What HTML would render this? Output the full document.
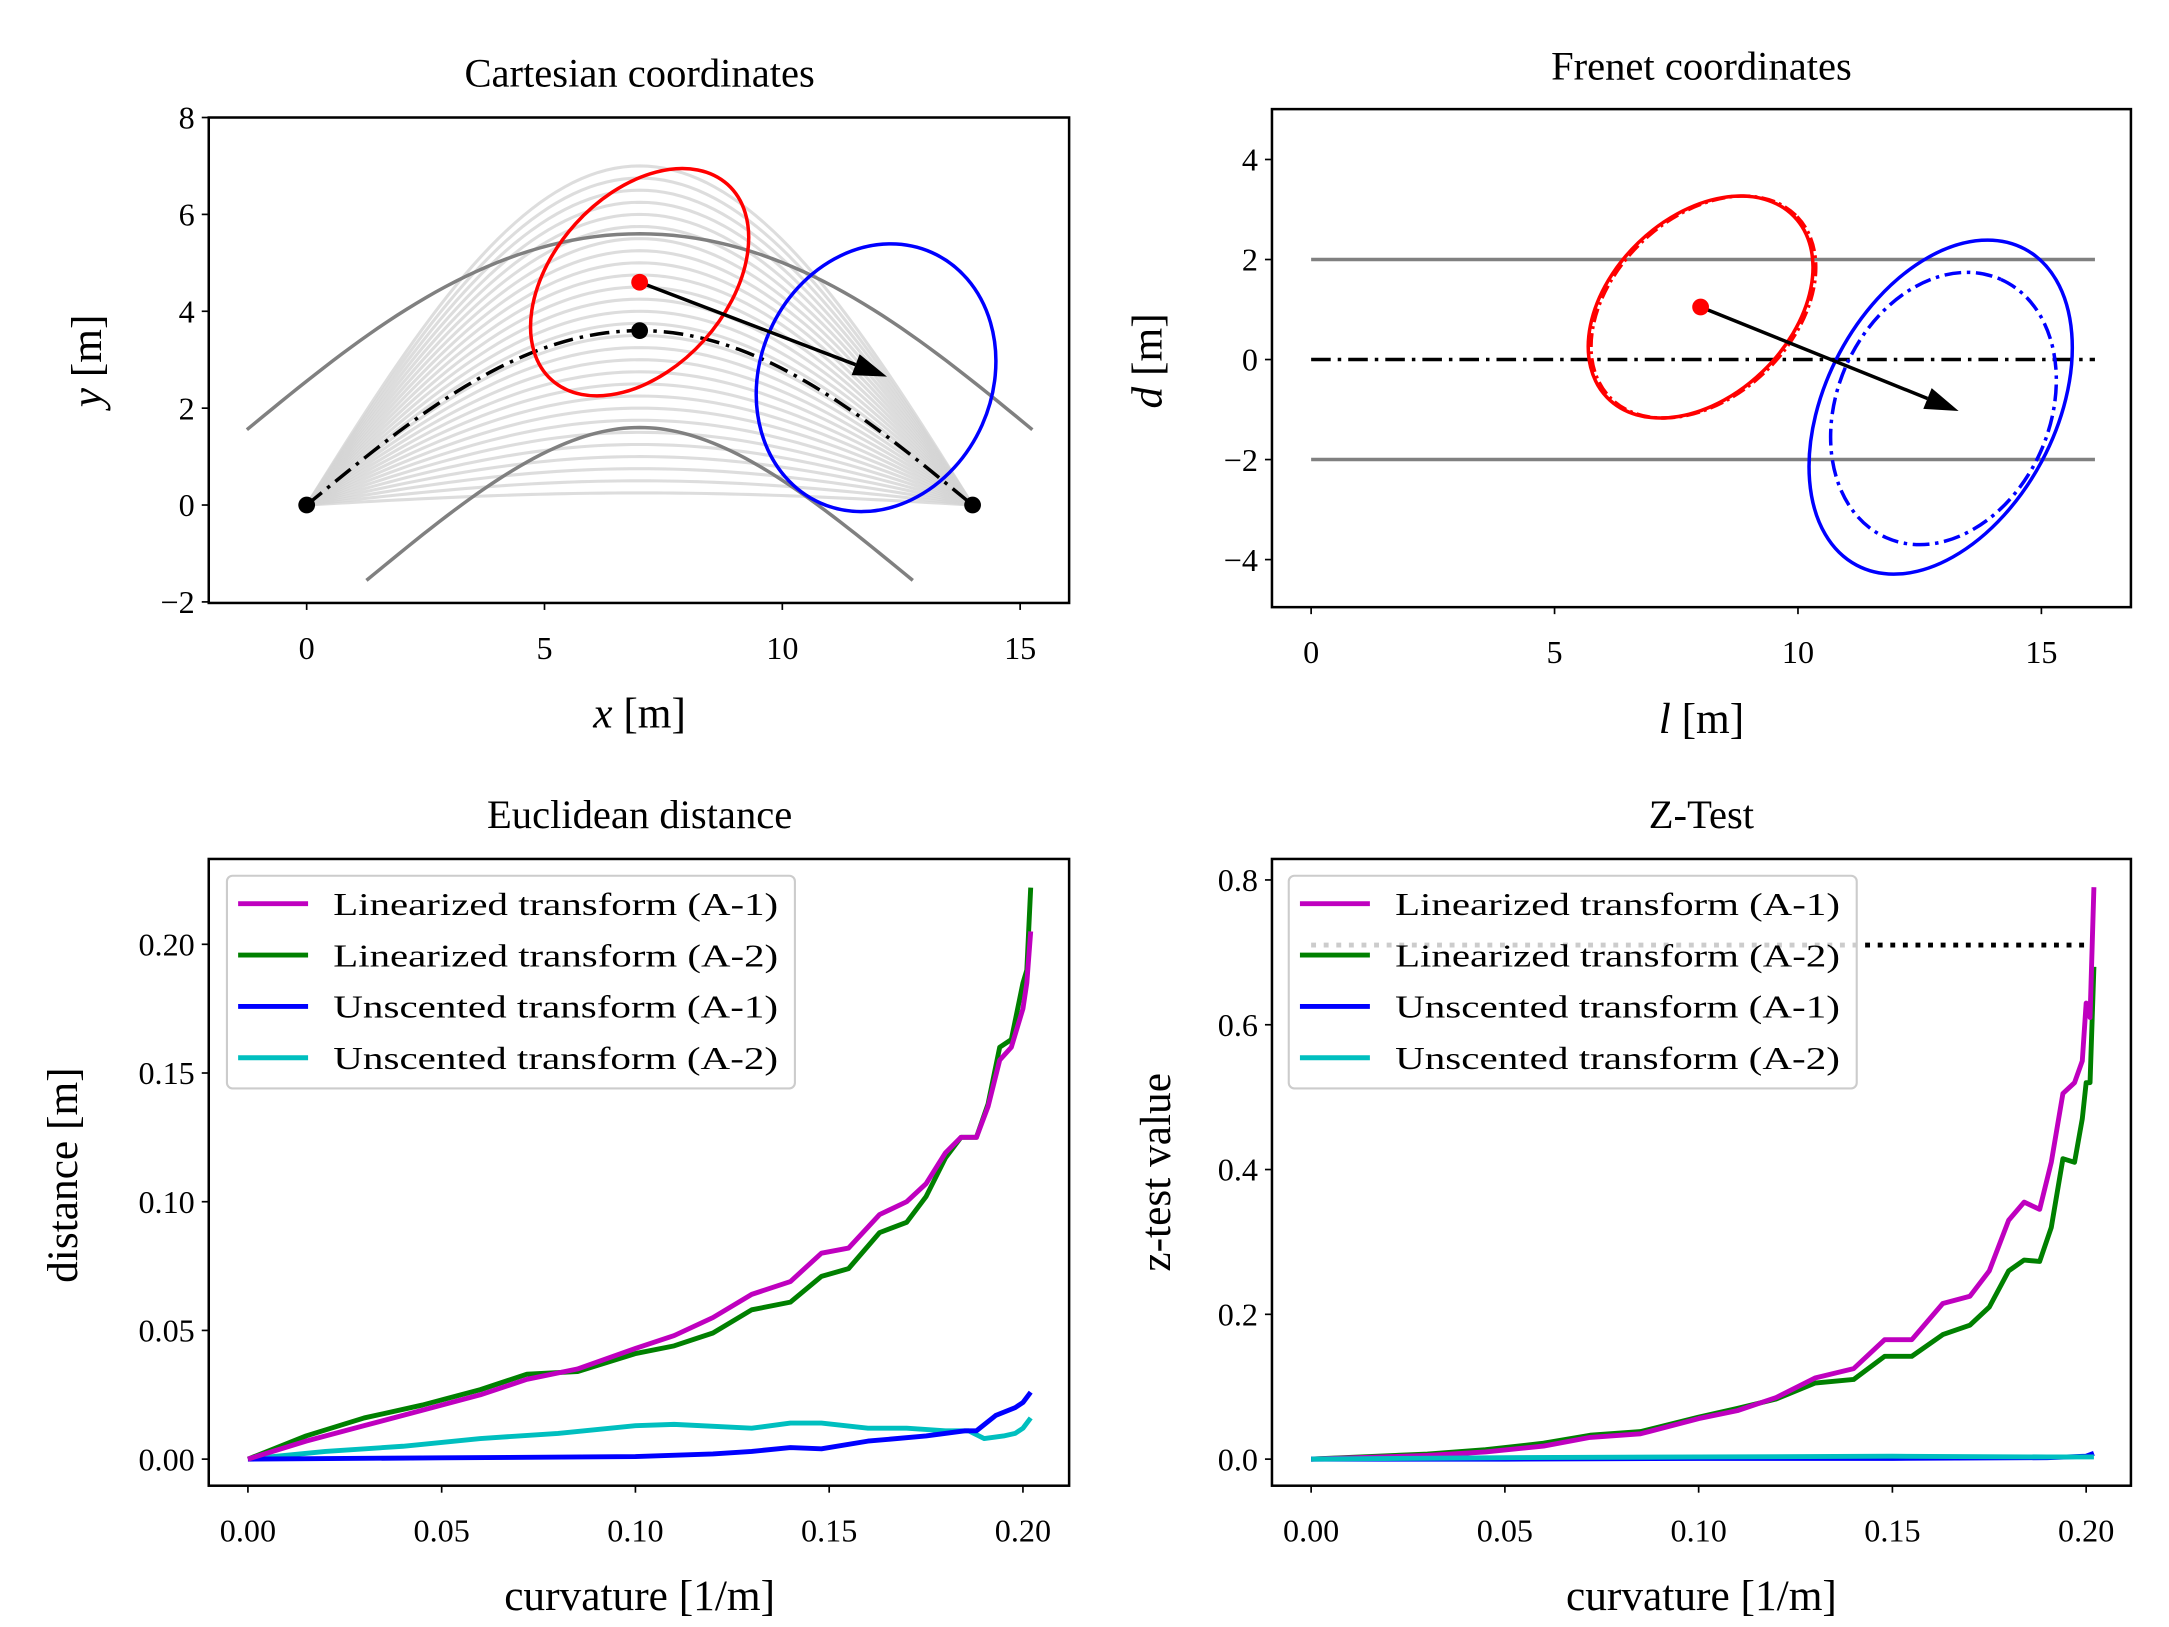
<!DOCTYPE html>
<html><head><meta charset="utf-8"><style>
html,body{margin:0;padding:0;background:#fff;}
svg{display:block;font-family:"Liberation Serif",serif;}
</style></head><body>
<svg id="fig" width="2169" height="1627" viewBox="0 0 1550 1163" xmlns="http://www.w3.org/2000/svg"></svg>
<script>
// ---- data ----
const kE = [0,0.015,0.03,0.045,0.06,0.072,0.085,0.1,0.11,0.12,0.13,0.14,0.148,0.155,0.163,0.17,0.175,0.18,0.184,0.188,0.191,0.194,0.197,0.2,0.201,0.202];
const eLinA1 = [0,0.007,0.013,0.019,0.025,0.031,0.035,0.043,0.048,0.055,0.064,0.069,0.080,0.082,0.095,0.100,0.107,0.119,0.125,0.125,0.137,0.155,0.160,0.175,0.185,0.205];
const eLinA2 = [0,0.009,0.016,0.021,0.027,0.033,0.034,0.041,0.044,0.049,0.058,0.061,0.071,0.074,0.088,0.092,0.102,0.117,0.125,0.125,0.138,0.160,0.163,0.185,0.190,0.222];
const kU1 = [0,0.05,0.1,0.12,0.13,0.14,0.148,0.16,0.175,0.185,0.188,0.193,0.198,0.2,0.202];
const eUnA1 = [0,0.0005,0.001,0.002,0.003,0.0045,0.004,0.007,0.009,0.011,0.011,0.017,0.020,0.022,0.026];
const kU2 = [0,0.02,0.04,0.06,0.08,0.1,0.11,0.13,0.14,0.148,0.16,0.17,0.18,0.186,0.19,0.195,0.198,0.2,0.202];
const eUnA2 = [0,0.003,0.005,0.008,0.010,0.013,0.0135,0.012,0.014,0.014,0.012,0.012,0.011,0.011,0.008,0.009,0.010,0.012,0.016];
const kZ = [0,0.03,0.045,0.06,0.072,0.085,0.1,0.11,0.12,0.13,0.14,0.148,0.155,0.163,0.17,0.175,0.18,0.184,0.188,0.191,0.194,0.197,0.199,0.2,0.201,0.202];
const zLinA1 = [0,0.005,0.01,0.018,0.03,0.035,0.056,0.067,0.085,0.112,0.125,0.165,0.165,0.215,0.225,0.26,0.33,0.355,0.345,0.41,0.505,0.52,0.55,0.63,0.61,0.79];
const zLinA2 = [0,0.007,0.013,0.022,0.033,0.038,0.058,0.07,0.083,0.105,0.11,0.142,0.142,0.172,0.185,0.21,0.26,0.275,0.273,0.32,0.415,0.41,0.47,0.52,0.52,0.68];
const kZU = [0,0.05,0.1,0.15,0.19,0.2,0.202];
const zUnA1 = [0,0.0,0.001,0.001,0.002,0.004,0.008];
const zUnA2 = [0,0.002,0.003,0.004,0.003,0.003,0.003];
const zThreshold = 0.71;
const legendLabels = ["Linearized transform (A-1)","Linearized transform (A-2)","Unscented transform (A-1)","Unscented transform (A-2)"];
const legendColors = ["#bf00bf","#008000","#0000ff","#00bfbf"];
const kTicks = [0,0.05,0.1,0.15,0.2];
const kTickLabels = ["0.00","0.05","0.10","0.15","0.20"];
const eTicks = [0,0.05,0.1,0.15,0.2];
const eTickLabels = ["0.00","0.05","0.10","0.15","0.20"];
const zTicks = [0,0.2,0.4,0.6,0.8];
const zTickLabels = ["0.0","0.2","0.4","0.6","0.8"];
const cxTicks = [0,5,10,15];
const cyTicks = [-2,0,2,4,6,8];
const fxTicks = [0,5,10,15];
const fyTicks = [-4,-2,0,2,4];
const roadLength = 14, roadPeak = 3.6, roadOffset = 2;
const familyPeaks = [0.25,0.5,0.75,1,1.25,1.5,1.75,2,2.25,2.5,2.75,3,3.25,3.5,3.75,4,4.25,4.5,4.75,5,5.25,5.5,5.75,6,6.25,6.5,6.75,7];
const meanPt = [7,4.6], refPt = [7,3.6], arrowEnd = [12.2,2.65];
const frMean = [8,1.05], frArrowEnd = [13.3,-1.03];

const NS="http://www.w3.org/2000/svg";
const svg=document.getElementById('fig');
function mk(tag,attrs,parent){const e=document.createElementNS(NS,tag);for(const k in attrs)e.setAttribute(k,attrs[k]);(parent||svg).appendChild(e);return e;}
function txt(s,x,y,size,anchor,parent,extra){const t=mk('text',Object.assign({x:x,y:y,'font-size':size,'text-anchor':anchor||'middle',fill:'#000'},extra||{}),parent);t.textContent=s;return t;}
function lin(d0,d1,r0,r1){return v=>r0+(v-d0)*(r1-r0)/(d1-d0);}

function axesFrame(g,L,T,R,B,xs,ys,xt,xl,yt,yl){
  xt.forEach((v,i)=>{const x=xs(v);mk('line',{x1:x,x2:x,y1:B,y2:B+5,stroke:'#000','stroke-width':1.2},g);
    const t=txt(xl[i],x,B+40,23,'middle',g);
    
    });
  yt.forEach((v,i)=>{const y=ys(v);mk('line',{x1:L-5,x2:L,y1:y,y2:y,stroke:'#000','stroke-width':1.2},g);
    const t=txt(yl[i],L-10,y+8,23,'end',g);
    
    });
}
function box(g,L,T,R,B){const r=mk('rect',{x:L,y:T,width:R-L,height:B-T,fill:'none',stroke:'#000','stroke-width':1.8},g);
  }
function poly(g,xs,ys,X,Y,attrs,name){const d=X.map((v,i)=>(i?'L':'M')+xs(v).toFixed(2)+','+ys(Y[i]).toFixed(2)).join('');
  const p=mk('path',Object.assign({d:d,fill:'none'},attrs),g);
  return p;}

function drawArrow(g,x1,y1,x2,y2,name){
  const a=Math.atan2(y2-y1,x2-x1),hl=24,hw=8;
  const bx=x2-hl*Math.cos(a),by=y2-hl*Math.sin(a);
  const ln=mk('line',{x1:x1,y1:y1,x2:bx,y2:by,stroke:'#000','stroke-width':2.5},g);
  
  const px=-Math.sin(a),py=Math.cos(a);
  const h=mk('polygon',{points:`${x2},${y2} ${bx+hw*px},${by+hw*py} ${bx-hw*px},${by-hw*py}`,fill:'#000'},g);
  
}

// ---------- Panel 1: Cartesian ----------
(function(){
  const L=149,T=84,R=764,B=431;
  const g=mk('g',{});
  const xs=lin(0,15,219,729), ys=lin(0,8,361,84);
  const cp=mk('clipPath',{id:'c1'});mk('rect',{x:L,y:T,width:R-L,height:B-T},cp);
  const gc=mk('g',{'clip-path':'url(#c1)'},g);
  const N=80;
  familyPeaks.forEach(h=>{const X=[],Y=[];for(let i=0;i<=N;i++){const t=roadLength*i/N;X.push(t);Y.push(h*Math.sin(Math.PI*t/roadLength));}
    poly(gc,xs,ys,X,Y,{stroke:'#d4d4d4','stroke-width':2.2,'stroke-opacity':0.8},'candidate-path');});
  [roadOffset,-roadOffset].forEach(o=>{const X=[],Y=[];for(let i=0;i<=N;i++){const t=roadLength*i/N;const y=roadPeak*Math.sin(Math.PI*t/roadLength);
      const dy=roadPeak*Math.PI/roadLength*Math.cos(Math.PI*t/roadLength);const n=Math.hypot(1,dy);X.push(t-o*dy/n);Y.push(y+o/n);}
    poly(gc,xs,ys,X,Y,{stroke:'#808080','stroke-width':2.5},o>0?'road-upper-boundary':'road-lower-boundary');});
  {const X=[],Y=[];for(let i=0;i<=N;i++){const t=roadLength*i/N;X.push(t);Y.push(roadPeak*Math.sin(Math.PI*t/roadLength));}
    poly(gc,xs,ys,X,Y,{stroke:'#000','stroke-width':2.5,'stroke-dasharray':'14 5 2.5 5'},'reference-path');}
  const re=mk('ellipse',{cx:xs(meanPt[0]),cy:ys(meanPt[1]),rx:94,ry:62,transform:`rotate(-48 ${xs(meanPt[0])} ${ys(meanPt[1])})`,fill:'none',stroke:'#ff0000','stroke-width':2.5},gc);
  
  const be=mk('ellipse',{cx:626,cy:270,rx:98,ry:83,transform:'rotate(-66 626 270)',fill:'none',stroke:'#0000ff','stroke-width':2.5},gc);
  
  drawArrow(gc,xs(meanPt[0]),ys(meanPt[1]),xs(arrowEnd[0]),ys(arrowEnd[1]),'motion-arrow');
  [[0,0],[14,0],refPt].forEach(p=>{const c=mk('circle',{cx:xs(p[0]),cy:ys(p[1]),r:6,fill:'#000'},gc);});
  const c=mk('circle',{cx:xs(meanPt[0]),cy:ys(meanPt[1]),r:6,fill:'#ff0000'},gc);
  box(g,L,T,R,B);
  axesFrame(g,L,T,R,B,xs,ys,cxTicks,cxTicks.map(String),cyTicks,cyTicks.map(v=>v<0?'\u2212'+(-v):String(v)));
  let t=txt('Cartesian coordinates',457,62,29,'middle',g);
  t=txt('',457,520,31,'middle',g);t.innerHTML='<tspan font-style="italic">x</tspan> [m]';
  t=txt('',0,0,31,'middle',g,{transform:'translate(72 258) rotate(-90)'});t.innerHTML='<tspan font-style="italic">y</tspan> [m]';
})();

// ---------- Panel 2: Frenet ----------
(function(){
  const L=909,T=78,R=1523,B=434;
  const g=mk('g',{});
  const xs=lin(0,15,937,1459), ys=lin(0,4,257,114);
  [roadOffset,-roadOffset].forEach(o=>{const l=mk('line',{x1:xs(0),x2:xs(16.1),y1:ys(o),y2:ys(o),stroke:'#808080','stroke-width':2.5},g);
    });
  const rl=mk('line',{x1:xs(0),x2:xs(16.1),y1:ys(0),y2:ys(0),stroke:'#000','stroke-width':2.5,'stroke-dasharray':'14 5 2.5 5'},g);
  
  const cx=xs(frMean[0]),cy=ys(frMean[1]);
  [[0,''],[2,'10 3 2 3']].forEach(([d,da])=>{const e=mk('ellipse',{cx:cx+d,cy:cy,rx:93,ry:64,transform:`rotate(-44 ${cx+d} ${cy})`,fill:'none',stroke:'#ff0000','stroke-width':2.5,'stroke-dasharray':da},g);
    });
  let e=mk('ellipse',{cx:1387,cy:291,rx:128,ry:82,transform:'rotate(-62 1387 291)',fill:'none',stroke:'#0000ff','stroke-width':2.5},g);
  
  e=mk('ellipse',{cx:1389,cy:292,rx:101,ry:76,transform:'rotate(-66 1389 292)',fill:'none',stroke:'#0000ff','stroke-width':2.5,'stroke-dasharray':'12 4 2.5 4'},g);
  
  drawArrow(g,cx,cy,xs(frArrowEnd[0]),ys(frArrowEnd[1]),'motion-arrow');
  const c=mk('circle',{cx:cx,cy:cy,r:6,fill:'#ff0000'},g);
  box(g,L,T,R,B);
  axesFrame(g,L,T,R,B,xs,ys,fxTicks,fxTicks.map(String),fyTicks,fyTicks.map(v=>v<0?'\u2212'+(-v):String(v)));
  let t=txt('Frenet coordinates',1216,57,29,'middle',g);
  t=txt('',1216,524,31,'middle',g);t.innerHTML='<tspan font-style="italic">l</tspan> [m]';
  t=txt('',0,0,31,'middle',g,{transform:'translate(830 258) rotate(-90)'});t.innerHTML='<tspan font-style="italic">d</tspan> [m]';
})();

function legend(g,x,y){
  const lg=mk('g',{},g);
  mk('rect',{x:x,y:y,width:406,height:152,rx:4,fill:'#fff','fill-opacity':0.8,stroke:'#cccccc','stroke-width':1.5},lg);
  legendLabels.forEach((s,i)=>{const yy=y+20+i*36.7;
    const l=mk('line',{x1:x+8,x2:x+58,y1:yy,y2:yy,stroke:legendColors[i],'stroke-width':3.5},lg);
    
    const t=txt(s,x+76,yy+8,23,'start',lg,{textLength:318,lengthAdjust:'spacingAndGlyphs'});
    });
}

// ---------- Panel 3: Euclidean ----------
(function(){
  const L=149,T=614,R=764,B=1062;
  const g=mk('g',{});
  const xs=lin(0,0.2,177,731), ys=lin(0,0.2,1043,675);
  poly(g,xs,ys,kU2,eUnA2,{stroke:legendColors[3],'stroke-width':3.5,'stroke-linejoin':'round'},'line-unscented-a2');
  poly(g,xs,ys,kU1,eUnA1,{stroke:legendColors[2],'stroke-width':3.5,'stroke-linejoin':'round'},'line-unscented-a1');
  poly(g,xs,ys,kE,eLinA2,{stroke:legendColors[1],'stroke-width':3.5,'stroke-linejoin':'round'},'line-linearized-a2');
  poly(g,xs,ys,kE,eLinA1,{stroke:legendColors[0],'stroke-width':3.5,'stroke-linejoin':'round'},'line-linearized-a1');
  box(g,L,T,R,B);
  axesFrame(g,L,T,R,B,xs,ys,kTicks,kTickLabels,eTicks,eTickLabels);
  legend(g,162,626);
  let t=txt('Euclidean distance',457,592,29,'middle',g);
  t=txt('curvature [1/m]',457,1151,31,'middle',g);
  t=txt('distance [m]',0,0,31,'middle',g,{transform:'translate(55 840) rotate(-90)'});
})();

// ---------- Panel 4: Z-Test ----------
(function(){
  const L=909,T=614,R=1523,B=1062;
  const g=mk('g',{});
  const xs=lin(0,0.2,937,1491), ys=lin(0,0.8,1043,629);
  const th=mk('line',{x1:xs(0),x2:xs(0.202),y1:ys(zThreshold),y2:ys(zThreshold),stroke:'#000','stroke-width':3.5,'stroke-dasharray':'3.5 5.5'},g);
  
  poly(g,xs,ys,kZ,zLinA2,{stroke:legendColors[1],'stroke-width':3.5,'stroke-linejoin':'round'},'line-linearized-a2');
  poly(g,xs,ys,kZ,zLinA1,{stroke:legendColors[0],'stroke-width':3.5,'stroke-linejoin':'round'},'line-linearized-a1');
  poly(g,xs,ys,kZU,zUnA1,{stroke:legendColors[2],'stroke-width':3.5},'line-unscented-a1');
  poly(g,xs,ys,kZU,zUnA2,{stroke:legendColors[3],'stroke-width':3.5},'line-unscented-a2');
  box(g,L,T,R,B);
  axesFrame(g,L,T,R,B,xs,ys,kTicks,kTickLabels,zTicks,zTickLabels);
  legend(g,921,626);
  let t=txt('Z-Test',1216,592,29,'middle',g);
  t=txt('curvature [1/m]',1216,1151,31,'middle',g);
  t=txt('z-test value',0,0,31,'middle',g,{transform:'translate(836 838) rotate(-90)'});
})();
</script>
</body></html>
